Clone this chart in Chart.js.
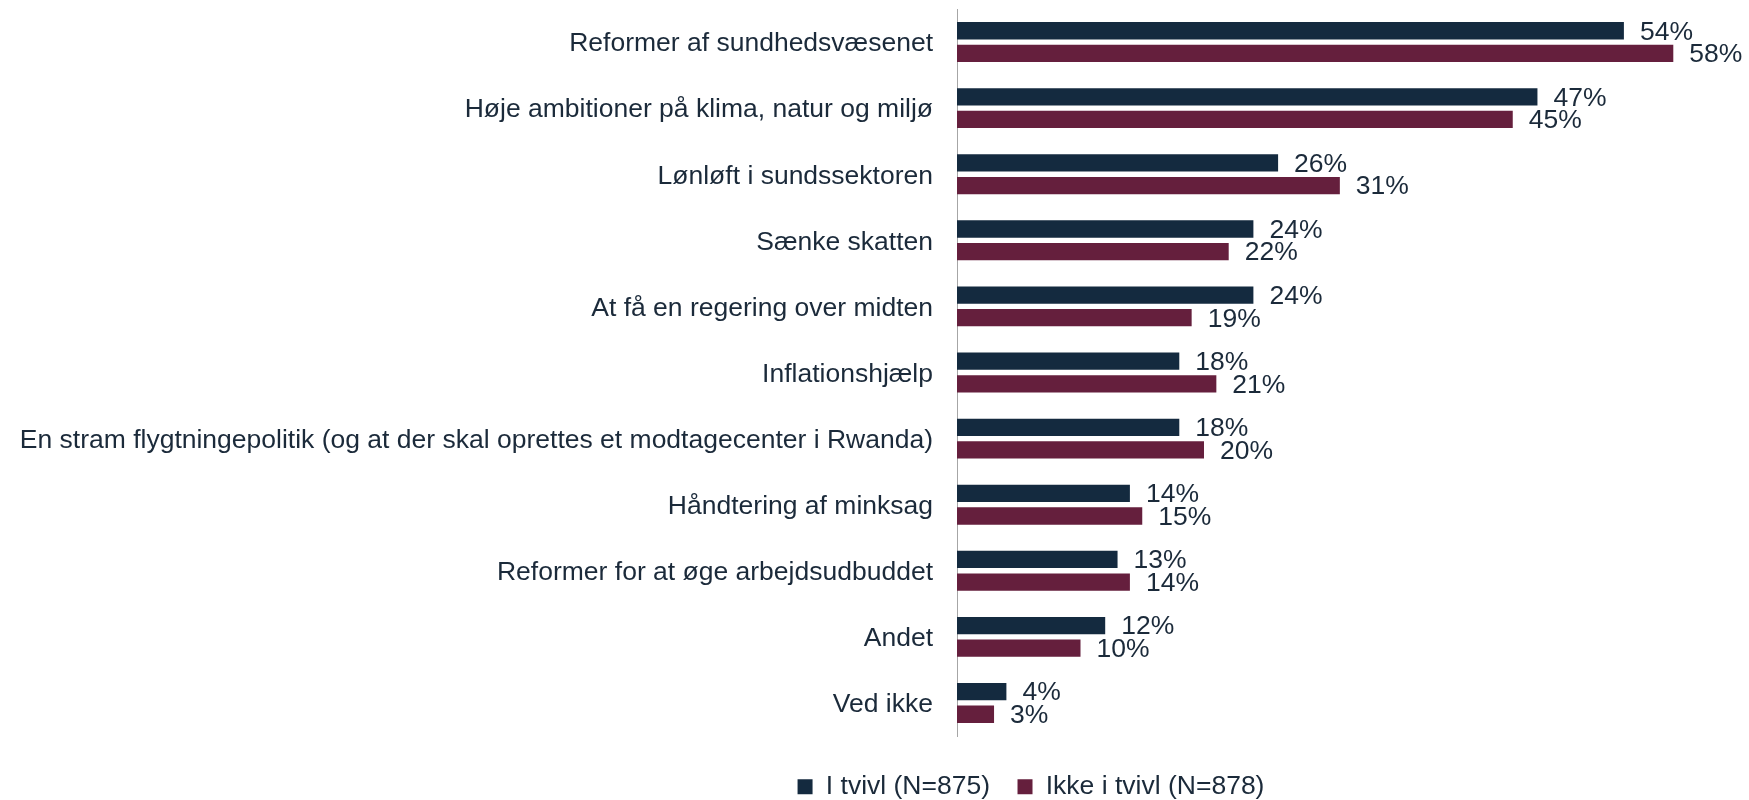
<!DOCTYPE html>
<html>
<head>
<meta charset="utf-8">
<script src="https://cdn.jsdelivr.net/npm/chart.js@4/dist/chart.umd.min.js"></script>
<style>
  html, body { margin: 0; padding: 0; background: #ffffff; }
  #wrap { width: 1749px; height: 800px; }
</style>
</head>
<body>
<div id="wrap"><canvas id="chart"></canvas></div>
<script>
// data
const categories = [
    'Reformer af sundhedsvæsenet',
    'Høje ambitioner på klima, natur og miljø',
    'Lønløft i sundssektoren',
    'Sænke skatten',
    'At få en regering over midten',
    'Inflationshjælp',
    'En stram flygtningepolitik (og at der skal oprettes et modtagecenter i Rwanda)',
    'Håndtering af minksag',
    'Reformer for at øge arbejdsudbuddet',
    'Andet',
    'Ved ikke'
];
const iTvivl = [54, 47, 26, 24, 24, 18, 18, 14, 13, 12, 4];
const ikkeITvivl = [58, 45, 31, 22, 19, 21, 20, 15, 14, 10, 3];
const seriesNames = ['I tvivl (N=875)', 'Ikke i tvivl (N=878)'];

const textColor = '#1b2a3a';
const fontFamily = "'Liberation Sans', Arial, sans-serif";
const fontSize = 26.5;

// værdi-etiketter til højre for hver søjle
const valueLabels = {
    id: 'valueLabels',
    afterDatasetsDraw(chart) {
        const ctx = chart.ctx;
        ctx.save();
        ctx.font = fontSize + 'px ' + fontFamily;
        ctx.fillStyle = textColor;
        ctx.textAlign = 'left';
        ctx.textBaseline = 'middle';
        chart.data.datasets.forEach((ds, i) => {
            const meta = chart.getDatasetMeta(i);
            meta.data.forEach((bar, j) => {
                ctx.fillText(ds.data[j] + '%', bar.x + 16, bar.y + 1.5);
            });
        });
        ctx.restore();
    }
};

// flyt forklaringen lidt til højre og ned, som i originalen
const legendShift = {
    id: 'legendShift',
    afterLayout(chart) {
        const lg = chart.legend;
        if (!lg) return;
        lg.left += 182;
        lg.right += 182;
        lg.top += 10;
        lg.bottom += 10;
    }
};

new Chart(document.getElementById('chart'), {
    type: 'bar',
    data: {
        labels: categories,
        datasets: [
            {
                label: seriesNames[0],
                data: iTvivl,
                backgroundColor: '#142a3f',
                categoryPercentage: 0.684,
                barPercentage: 0.765
            },
            {
                label: seriesNames[1],
                data: ikkeITvivl,
                backgroundColor: '#651f3d',
                categoryPercentage: 0.684,
                barPercentage: 0.765
            }
        ]
    },
    options: {
        indexAxis: 'y',
        responsive: true,
        maintainAspectRatio: false,
        animation: false,
        layout: {
            padding: { left: 0, right: 51, top: 9, bottom: 0 }
        },
        plugins: {
            legend: {
                display: true,
                position: 'bottom',
                labels: {
                    color: textColor,
                    font: { size: fontSize, family: fontFamily },
                    boxWidth: 15,
                    boxHeight: 15,
                    padding: 27.5
                }
            },
            tooltip: { enabled: false }
        },
        scales: {
            x: {
                display: false,
                min: 0,
                max: 60
            },
            y: {
                grid: { display: false, drawTicks: false },
                border: { display: true, color: '#a6a6a6', width: 1 },
                ticks: {
                    color: textColor,
                    font: { size: fontSize, family: fontFamily },
                    padding: 24,
                    labelOffset: 2,
                    autoSkip: false
                },
                afterFit: function (scale) {
                    scale.width = 957;
                    scale.paddingTop = 0;
                    scale.paddingBottom = 0;
                }
            }
        }
    },
    plugins: [valueLabels, legendShift]
});
</script>
</body>
</html>
